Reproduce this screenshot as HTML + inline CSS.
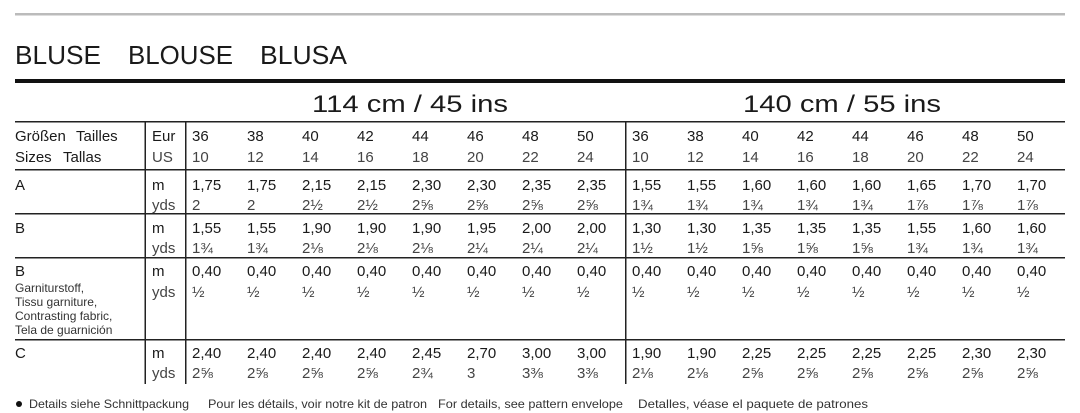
<!DOCTYPE html>
<html><head><meta charset="utf-8"><style>
html,body{margin:0;padding:0;background:#fff}
svg{display:block}
text{font-family:"Liberation Sans","DejaVu Sans",sans-serif;fill:#1a1a1a}
.v{font-size:15px}
.y{font-size:15px;fill:#444}
.s{font-size:12px;fill:#333}
</style></head><body>
<svg width="1080" height="413" viewBox="0 0 1080 413" xmlns="http://www.w3.org/2000/svg">
<rect x="15" y="13" width="1050" height="2.5" fill="#bbb"/>
<text x="15" y="64" font-size="26" textLength="86" lengthAdjust="spacingAndGlyphs">BLUSE</text>
<text x="128" y="64" font-size="26" textLength="105" lengthAdjust="spacingAndGlyphs">BLOUSE</text>
<text x="260" y="64" font-size="26" textLength="87" lengthAdjust="spacingAndGlyphs">BLUSA</text>
<rect x="15" y="79" width="1050" height="4" fill="#111"/>
<text x="410" y="112" font-size="24" text-anchor="middle" textLength="196" lengthAdjust="spacingAndGlyphs">114 cm / 45 ins</text>
<text x="842" y="112" font-size="24" text-anchor="middle" textLength="198" lengthAdjust="spacingAndGlyphs">140 cm / 55 ins</text>
<g fill="#222">
<rect x="15" y="121" width="1050" height="1.5"/>
<rect x="15" y="169" width="1050" height="1.5"/>
<rect x="15" y="213" width="1050" height="1.5"/>
<rect x="15" y="257" width="1050" height="1.5"/>
<rect x="15" y="339" width="1050" height="1.5"/>
<rect x="144.5" y="121" width="1.5" height="263"/>
<rect x="185" y="121" width="1.5" height="263"/>
<rect x="625" y="121" width="1.5" height="263"/>
</g>
<text class="v" x="15" y="141">Größen</text><text class="v" x="76" y="141">Tailles</text>
<text class="v" x="15" y="162">Sizes</text><text class="v" x="63" y="162">Tallas</text>
<text class="v" x="152" y="141">Eur</text>
<text class="y" x="152" y="162">US</text>
<text class="v" x="15" y="190">A</text>
<text class="v" x="15" y="233">B</text>
<text class="v" x="15" y="276">B</text>
<text class="s" x="15" y="292">Garniturstoff,</text>
<text class="s" x="15" y="306">Tissu garniture,</text>
<text class="s" x="15" y="320">Contrasting fabric,</text>
<text class="s" x="15" y="334">Tela de guarnición</text>
<text class="v" x="15" y="358">C</text>
<text class="v" x="152" y="190">m</text><text class="y" x="152" y="210">yds</text>
<text class="v" x="152" y="233">m</text><text class="y" x="152" y="253">yds</text>
<text class="v" x="152" y="276">m</text><text class="y" x="152" y="297">yds</text>
<text class="v" x="152" y="358">m</text><text class="y" x="152" y="378">yds</text>
<g id="cols"></g>
</svg>
<script>
var g=document.getElementById('cols');
var eur=['36','38','40','42','44','46','48','50'],us=['10','12','14','16','18','20','22','24'];
var rows=[
[190,210,['1,75','1,75','2,15','2,15','2,30','2,30','2,35','2,35','1,55','1,55','1,60','1,60','1,60','1,65','1,70','1,70'],['2','2','2½','2½','2⅝','2⅝','2⅝','2⅝','1¾','1¾','1¾','1¾','1¾','1⅞','1⅞','1⅞']],
[233,253,['1,55','1,55','1,90','1,90','1,90','1,95','2,00','2,00','1,30','1,30','1,35','1,35','1,35','1,55','1,60','1,60'],['1¾','1¾','2⅛','2⅛','2⅛','2¼','2¼','2¼','1½','1½','1⅝','1⅝','1⅝','1¾','1¾','1¾']],
[276,297,Array(16).fill('0,40'),Array(16).fill('½')],
[358,378,['2,40','2,40','2,40','2,40','2,45','2,70','3,00','3,00','1,90','1,90','2,25','2,25','2,25','2,25','2,30','2,30'],['2⅝','2⅝','2⅝','2⅝','2¾','3','3⅜','3⅜','2⅛','2⅛','2⅝','2⅝','2⅝','2⅝','2⅝','2⅝']]
];
var h='';
for(var i=0;i<16;i++){
 var x=(i<8?192:632)+55*(i%8);
 h+='<text class="v" x="'+x+'" y="141">'+eur[i%8]+'</text><text class="y" x="'+x+'" y="162">'+us[i%8]+'</text>';
 rows.forEach(function(r){h+='<text class="v" x="'+x+'" y="'+r[0]+'">'+r[2][i]+'</text><text class="y" x="'+x+'" y="'+r[1]+'">'+r[3][i]+'</text>';});
}
h+='<circle cx="19" cy="404" r="3" fill="#111"/>';
h+='<text class="s" x="29" y="408" textLength="160" lengthAdjust="spacingAndGlyphs">Details siehe Schnittpackung</text>';
h+='<text class="s" x="208" y="408" textLength="219" lengthAdjust="spacingAndGlyphs">Pour les détails, voir notre kit de patron</text>';
h+='<text class="s" x="438" y="408" textLength="185" lengthAdjust="spacingAndGlyphs">For details, see pattern envelope</text>';
h+='<text class="s" x="638" y="408" textLength="230" lengthAdjust="spacingAndGlyphs">Detalles, véase el paquete de patrones</text>';
g.innerHTML=h;
</script>
</body></html>
